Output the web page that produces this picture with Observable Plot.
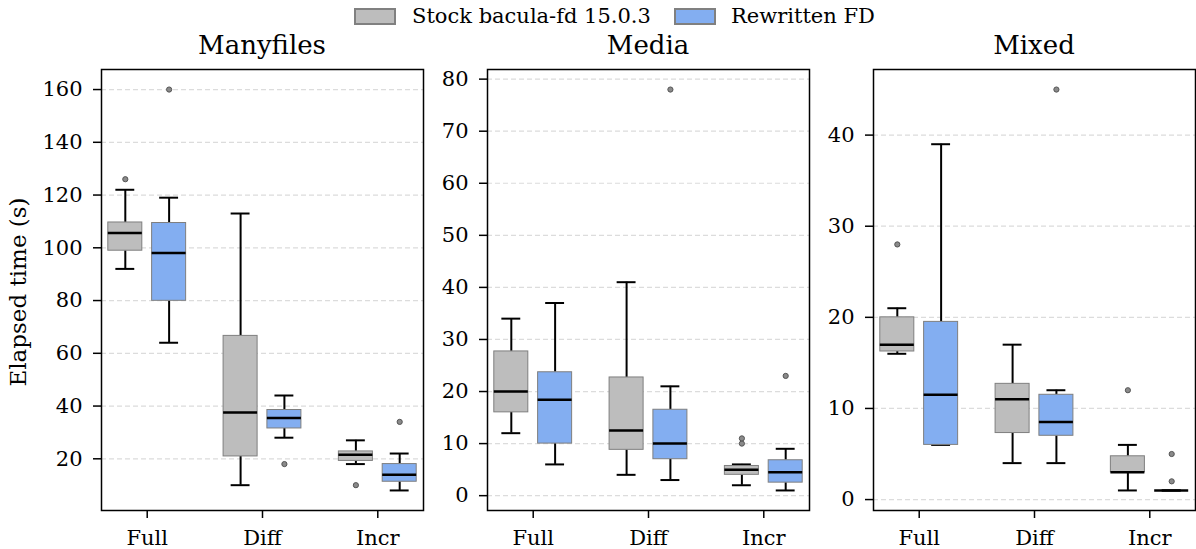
<!DOCTYPE html>
<html>
<head>
<meta charset="utf-8">
<script src="https://cdn.jsdelivr.net/npm/d3@7"></script>
<script src="https://cdn.jsdelivr.net/npm/@observablehq/plot@0.6"></script>
<style>
  html, body { margin: 0; padding: 0; background: white; }
  #fig { position: relative; width: 1196px; height: 549px; font-family: "DejaVu Serif", serif; color: #000; overflow: hidden; }
  .abs { position: absolute; }
  .title { font-size: 26px; transform: translate(-50%, -50%); white-space: nowrap; }
  .legtext { font-size: 21px; transform: translateY(-50%); white-space: nowrap; }
  .patch { box-sizing: border-box; border: 2px solid #808080; }
  #fig svg { background: transparent; overflow: visible; }
</style>
</head>
<body>
<div id="fig"></div>
<script>
// ---------- data ----------
const categories = ["Full", "Diff", "Incr"];
const seriesNames = ["Stock bacula-fd 15.0.3", "Rewritten FD"];
const seriesColors = ["#bdbdbd", "#83aef1"];
const panelTitles = ["Manyfiles", "Media", "Mixed"];
const yLabel = "Elapsed time (s)";

// box stats per category: [whiskerLow, q1, median, q3, whiskerHigh]
const manyfilesStock     = [[92, 98.9, 105.6, 109.6, 122], [10, 20.9, 37.6, 66.6, 113], [18, 19.2, 21.5, 22.8, 27]];
const manyfilesRewritten = [[64, 79.9, 98, 109.4, 119],   [28, 31.5, 35.5, 38.5, 44],  [8, 11.3, 14, 18, 22]];
const manyfilesStockOut     = [[126], [], [10]];
const manyfilesRewrittenOut = [[160], [18], [34]];

const mediaStock     = [[12, 16, 20, 27.7, 34], [4, 8.8, 12.5, 22.7, 41], [2, 4, 5, 5.7, 6]];
const mediaRewritten = [[6, 10, 18.4, 23.7, 37], [3, 7, 10, 16.5, 21],   [1, 2.5, 4.5, 6.8, 9]];
const mediaStockOut     = [[], [], [10, 11]];
const mediaRewrittenOut = [[], [78], [23]];

const mixedStock     = [[16, 16.25, 17, 20, 21], [4, 7.3, 11, 12.7, 17], [1, 3, 3, 4.75, 6]];
const mixedRewritten = [[6, 6, 11.5, 19.5, 39],  [4, 7, 8.5, 11.5, 12],  [1, 1, 1, 1, 1]];
const mixedStockOut     = [[28], [], [12]];
const mixedRewrittenOut = [[], [45], [5, 2]];

const manyfilesTicks = [20, 40, 60, 80, 100, 120, 140, 160];
const mediaTicks = [0, 10, 20, 30, 40, 50, 60, 70, 80];
const mixedTicks = [0, 10, 20, 30, 40];

// ---------- layout ----------
const FONT = "DejaVu Serif, serif";
const frameTop = 69, frameBottom = 510, frameW = 322;
const frameLefts = [101, 487, 873];
const mLeft = 64, mRight = 1;
const offset = 0.19, halfBox = 0.1475, halfCap = 0.082;

const fig = document.getElementById("fig");

function makePanel(p, stock, rew, stockOut, rewOut, ticks) {
  const stats = [stock, rew];
  const outs = [stockOut, rewOut];
  const rows = [], outRows = [];
  stats.forEach((arr, s) => arr.forEach((v, i) => {
    const cx = i + (s === 0 ? -offset : offset);
    rows.push({cat: categories[i], series: seriesNames[s], s, cx,
      lo: v[0], q1: v[1], med: v[2], q3: v[3], hi: v[4]});
    outs[s][i].forEach(o => outRows.push({cx, y: o, s}));
  }));
  const all = rows.flatMap(r => [r.lo, r.hi]).concat(outRows.map(o => o.y));
  const [mn, mx] = d3.extent(all);
  const pad = (mx - mn) * 0.05;
  const xpad = 0.3965;

  const chart = Plot.plot({
    width: mLeft + frameW + mRight,
    height: 549,
    marginTop: frameTop, marginBottom: 549 - frameBottom,
    marginLeft: mLeft, marginRight: mRight,
    style: {fontFamily: FONT, fontSize: "21px", background: "transparent", color: "black", overflow: "visible"},
    x: {domain: [-xpad, categories.length - 1 + xpad]},
    y: {domain: [mn - pad, mx + pad]},
    marks: [
      Plot.ruleY(ticks, {stroke: "#dcdcdc", strokeWidth: 1.2, strokeDasharray: "5,3"}),
      Plot.ruleX(rows, {x: "cx", y1: "lo", y2: "q1", stroke: "black", strokeWidth: 2}),
      Plot.ruleX(rows, {x: "cx", y1: "q3", y2: "hi", stroke: "black", strokeWidth: 2}),
      Plot.ruleY(rows, {y: "lo", x1: d => d.cx - halfCap, x2: d => d.cx + halfCap, stroke: "black", strokeWidth: 2}),
      Plot.ruleY(rows, {y: "hi", x1: d => d.cx - halfCap, x2: d => d.cx + halfCap, stroke: "black", strokeWidth: 2}),
      Plot.rect(rows, {x1: d => d.cx - halfBox, x2: d => d.cx + halfBox, y1: "q1", y2: "q3",
        fill: d => seriesColors[d.s], stroke: "#7f7f7f", strokeWidth: 1}),
      Plot.ruleY(rows, {y: "med", x1: d => d.cx - halfBox, x2: d => d.cx + halfBox, stroke: "black", strokeWidth: 2.5}),
      Plot.dot(outRows, {x: "cx", y: "y", r: 2.6, fill: "#8a8a8a", stroke: "#555", strokeWidth: 1}),
      Plot.axisY({ticks, tickSize: 8, tickPadding: 11, strokeWidth: 1.5, label: null, fontSize: 21}),
      Plot.axisX({ticks: d3.range(categories.length), tickFormat: i => categories[i], tickSize: 8, tickPadding: 12,
        strokeWidth: 1.5, label: null, fontSize: 21}),
      Plot.frame({stroke: "black", strokeWidth: 1.5})
    ]
  });
  chart.style.position = "absolute";
  chart.style.left = (frameLefts[p] - mLeft) + "px";
  chart.style.top = "0px";
  fig.appendChild(chart);

  const t = document.createElement("div");
  t.className = "abs title";
  t.textContent = panelTitles[p];
  t.style.left = (frameLefts[p] + frameW / 2) + "px";
  t.style.top = "45px";
  fig.appendChild(t);
}

makePanel(0, manyfilesStock, manyfilesRewritten, manyfilesStockOut, manyfilesRewrittenOut, manyfilesTicks);
makePanel(1, mediaStock, mediaRewritten, mediaStockOut, mediaRewrittenOut, mediaTicks);
makePanel(2, mixedStock, mixedRewritten, mixedStockOut, mixedRewrittenOut, mixedTicks);

// y label
const yl = document.createElement("div");
yl.className = "abs";
yl.textContent = yLabel;
yl.style.cssText = "position:absolute;left:18px;top:292px;font-size:23px;white-space:nowrap;transform:translate(-50%,-50%) rotate(-90deg);";
fig.appendChild(yl);

// legend
const legendPatchLefts = [354, 674], legendTextLefts = [412, 731];
seriesNames.forEach((name, s) => {
  const pt = document.createElement("div");
  pt.className = "abs patch";
  pt.style.cssText += `left:${legendPatchLefts[s]}px;top:8px;width:42px;height:17px;background:${seriesColors[s]};`;
  fig.appendChild(pt);
  const tx = document.createElement("div");
  tx.className = "abs legtext";
  tx.textContent = name;
  tx.style.left = legendTextLefts[s] + "px";
  tx.style.top = "16px";
  fig.appendChild(tx);
});
</script>
</body>
</html>
